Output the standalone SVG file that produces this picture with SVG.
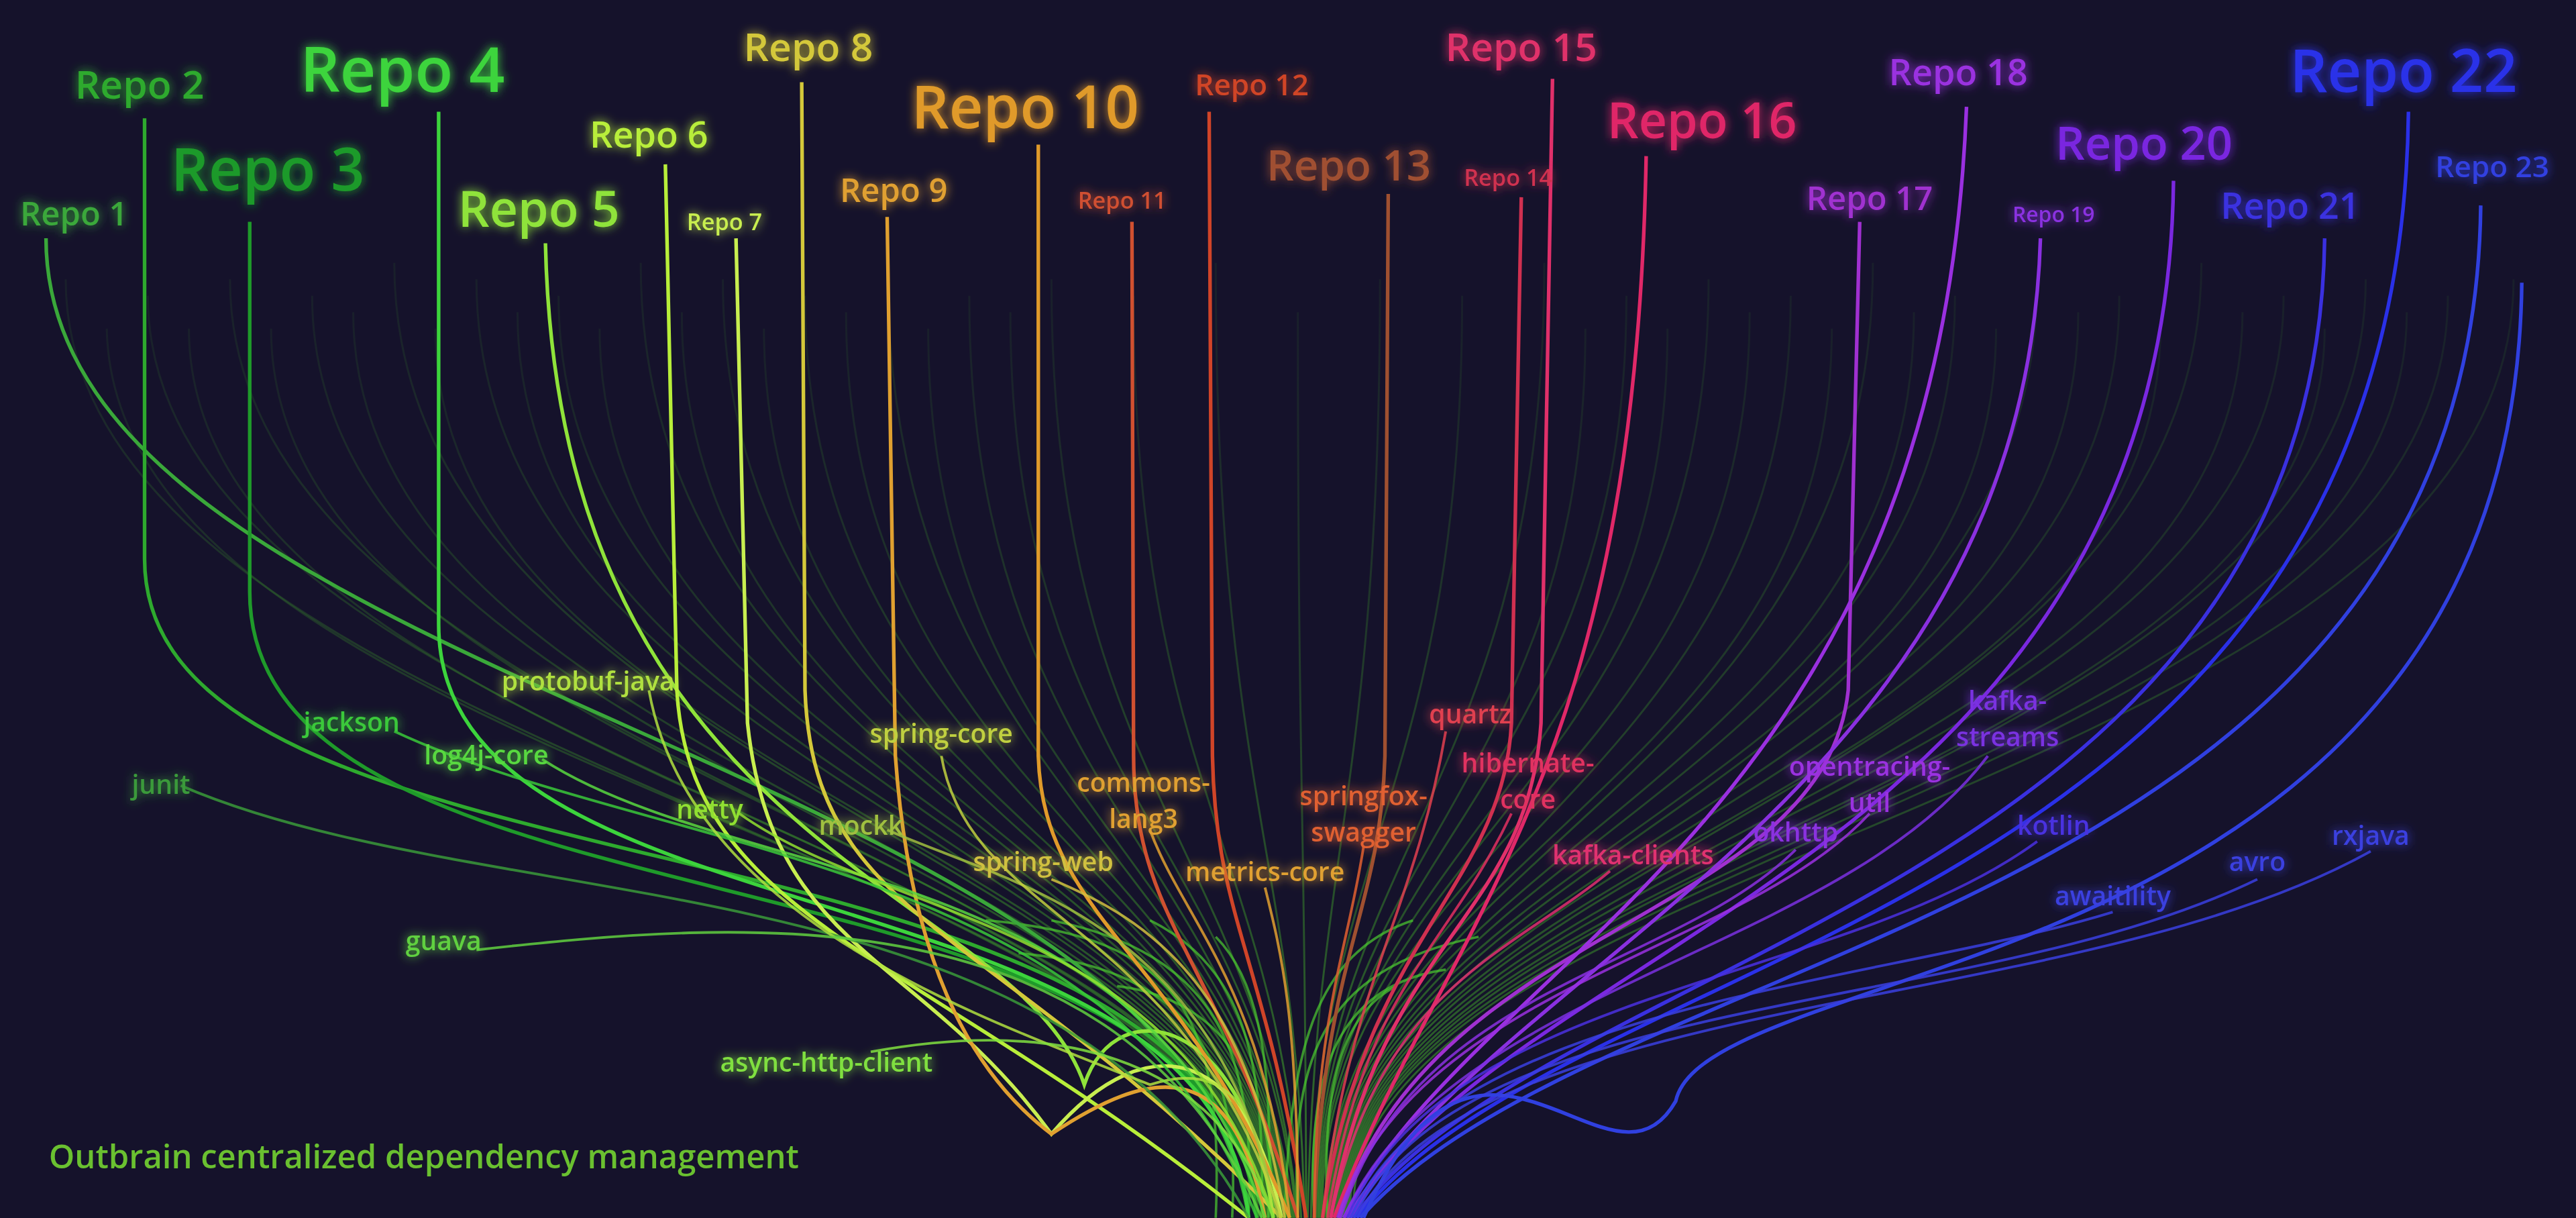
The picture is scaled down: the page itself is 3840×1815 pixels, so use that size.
<svg xmlns="http://www.w3.org/2000/svg" width="3840" height="1815" viewBox="0 0 3840 1815">
<defs>
<filter id="glow" x="-30%" y="-30%" width="160%" height="160%"><feGaussianBlur stdDeviation="3" result="b"/><feMerge><feMergeNode in="b"/><feMergeNode in="SourceGraphic"/></feMerge></filter>
<linearGradient id="fade" x1="0" y1="0" x2="0" y2="1"><stop offset="0" stop-color="#2f6a2a" stop-opacity="0.15"/><stop offset="1" stop-color="#3d9a2a" stop-opacity="0.7"/></linearGradient>
</defs>
<style>
text{font-family:"Open Sans","Noto Sans",sans-serif;text-anchor:middle;font-weight:600}
.bg path{fill:none;stroke:url(#fade);stroke-width:1.2}
.rl{fill:none;stroke-width:2.2}
.dl{fill:none;stroke-width:1.6;opacity:.85}
.tr path{fill:none;stroke:#4ccc30;stroke-width:1.5;opacity:.7}
</style>
<rect width="3840" height="1815" fill="#15122b"/>
<g transform="scale(2.449)">
<g id="connectors">
<g class="bg">
<path d="M40,170 C40,460 760,520 765,741"/><path d="M65,200 C70,470 760,520 766,741"/><path d="M90,180 C90,460 760,520 768,741"/><path d="M115,200 C115,470 760,520 769,741"/><path d="M140,170 C140,460 760,520 770,741"/><path d="M165,200 C165,470 760,520 771,741"/><path d="M190,180 C190,470 760,520 772,741"/><path d="M215,190 C215,470 760,520 773,741"/><path d="M240,160 C240,470 760,520 774,741"/><path d="M265,200 C265,470 760,520 775,741"/><path d="M290,170 C290,470 760,520 776,741"/><path d="M315,190 C315,470 760,520 777,741"/><path d="M340,180 C340,470 760,520 778,741"/><path d="M365,200 C365,470 760,520 779,741"/><path d="M390,160 C390,480 760,520 780,741"/><path d="M415,190 C415,480 760,520 781,741"/><path d="M440,170 C440,480 760,520 782,741"/><path d="M465,200 C465,480 760,520 783,741"/><path d="M490,180 C490,480 760,520 784,741"/><path d="M515,190 C515,480 760,520 785,741"/><path d="M540,160 C540,480 760,520 786,741"/><path d="M565,200 C565,480 760,520 787,741"/><path d="M590,180 C590,480 760,520 788,741"/><path d="M615,190 C615,480 770,520 789,741"/><path d="M640,170 C640,480 770,520 790,741"/><path d="M690,180 C690,480 780,520 792,741"/><path d="M740,160 C740,480 790,520 794,741"/><path d="M790,190 C790,480 795,520 795,741"/><path d="M840,170 C840,480 800,520 796,741"/><path d="M890,180 C890,480 800,520 798,741"/><path d="M940,160 C940,480 800,520 800,741"/><path d="M965,200 C965,480 800,520 801,741"/><path d="M990,180 C990,480 800,520 802,741"/><path d="M1015,200 C1015,480 800,520 803,741"/><path d="M1040,170 C1040,480 800,520 804,741"/><path d="M1065,190 C1065,480 800,520 805,741"/><path d="M1090,180 C1090,480 810,520 806,741"/><path d="M1115,200 C1115,480 810,520 807,741"/><path d="M1140,160 C1140,480 810,520 808,741"/><path d="M1165,190 C1165,480 810,520 809,741"/><path d="M1190,180 C1190,480 810,520 810,741"/><path d="M1215,200 C1215,480 810,520 811,741"/><path d="M1240,170 C1240,480 810,520 812,741"/><path d="M1265,190 C1265,480 810,520 813,741"/><path d="M1290,180 C1290,480 810,520 814,741"/><path d="M1315,200 C1315,480 810,520 815,741"/><path d="M1340,160 C1340,480 810,520 816,741"/><path d="M1365,190 C1365,480 810,520 817,741"/><path d="M1390,180 C1390,480 810,520 818,741"/><path d="M1415,200 C1415,480 810,520 819,741"/><path d="M1440,170 C1440,480 810,520 820,741"/><path d="M1465,190 C1465,480 810,520 821,741"/><path d="M1490,180 C1490,480 810,520 822,741"/><path d="M1530,170 C1530,480 810,520 824,741"/>
</g>
<g class="tr">
<path d="M600,560 C720,570 745,620 740,741"/><path d="M620,580 C730,590 755,650 750,741"/><path d="M640,560 C740,580 765,640 760,741"/><path d="M700,560 C760,590 770,650 768,741"/><path d="M680,600 C760,610 775,680 775,741"/><path d="M900,570 C800,590 785,650 790,741"/><path d="M880,590 C810,600 795,660 800,741"/><path d="M860,560 C800,580 785,640 782,741"/><path d="M740,570 C770,600 775,660 772,741"/><path d="M850,600 C810,620 805,680 808,741"/>
</g>
<path class="rl" stroke="#3aa83a" d="M28,145 C28,420 720,460 760,741"/>
<path class="rl" stroke="#2eaa2e" d="M88,72 L88,340 C88,560 740,480 765,741"/>
<path class="rl" stroke="#1f9a2a" d="M152,135 L152,360 C152,580 730,500 770,741"/>
<path class="rl" stroke="#3cd43c" d="M267,68 L267,380 C267,580 740,520 760,741"/>
<path class="rl" stroke="#8fe33a" d="M332,148 C340,520 620,540 660,660 C680,600 760,620 775,741"/>
<path class="rl" stroke="#b8ee3a" d="M405,100 L412,420 C420,560 560,580 760,741"/>
<path class="rl" stroke="#c8ee50" d="M448,145 L455,440 C470,580 560,580 640,690 C700,620 760,640 780,741"/>
<path class="rl" stroke="#d4c83a" d="M488,50 L490,420 C495,560 600,560 780,741"/>
<path class="rl" stroke="#e0a030" d="M540,132 L545,460 C555,600 600,660 640,690 C700,650 750,640 770,741"/>
<path class="rl" stroke="#e09a2a" d="M632,88 L632,460 C635,560 720,580 785,741"/>
<path class="rl" stroke="#d05030" d="M689,135 L690,460 C690,560 740,580 790,741"/>
<path class="rl" stroke="#d04428" d="M736,68 L738,460 C740,560 770,580 795,741"/>
<path class="rl" stroke="#a05030" d="M845,118 L843,460 C840,560 805,580 800,741"/>
<path class="rl" stroke="#d03050" d="M926,120 L920,440 C915,540 830,570 805,741"/>
<path class="rl" stroke="#e0306a" d="M945,48 L938,440 C930,560 840,570 810,741"/>
<path class="rl" stroke="#e02868" d="M1002,95 C995,480 880,560 812,741"/>
<path class="rl" stroke="#a030d0" d="M1132,135 L1125,420 C1110,560 870,560 815,741"/>
<path class="rl" stroke="#9a30e0" d="M1197,65 C1180,500 900,580 818,741"/>
<path class="rl" stroke="#8a30e0" d="M1242,145 C1232,480 920,580 820,741"/>
<path class="rl" stroke="#7a28e0" d="M1323,110 C1318,520 920,570 822,741"/>
<path class="rl" stroke="#3a30e0" d="M1415,145 C1410,540 940,580 824,741"/>
<path class="rl" stroke="#2a30e8" d="M1466,68 C1460,560 960,570 826,741"/>
<path class="rl" stroke="#3040e0" d="M1510,125 C1505,560 980,570 828,741"/>
<path class="rl" stroke="#3040e0" d="M1535,172 C1530,600 1040,580 1020,670 C980,740 900,580 830,741"/>
<path class="dl" stroke="#3a9a3a" d="M110,478 C300,560 640,520 760,741"/>
<path class="dl" stroke="#3ac83a" d="M240,445 C400,520 680,520 765,741"/>
<path class="dl" stroke="#58d840" d="M330,462 C450,540 700,520 770,741"/>
<path class="dl" stroke="#b0e040" d="M395,420 C420,560 600,620 700,660 C760,640 770,700 775,741"/>
<path class="dl" stroke="#90e030" d="M450,495 C540,560 720,560 775,741"/>
<path class="dl" stroke="#a0c040" d="M540,505 C620,540 740,560 778,741"/>
<path class="dl" stroke="#c0d040" d="M573,460 C590,560 720,560 780,741"/>
<path class="dl" stroke="#d0c040" d="M640,535 C700,560 760,600 782,741"/>
<path class="dl" stroke="#e0a030" d="M700,505 C720,560 770,600 785,741"/>
<path class="dl" stroke="#e0a030" d="M770,540 C780,580 790,620 790,741"/>
<path class="dl" stroke="#e06030" d="M830,515 C820,580 800,620 800,741"/>
<path class="dl" stroke="#e04050" d="M880,445 C860,560 820,600 805,741"/>
<path class="dl" stroke="#e03060" d="M920,495 C880,580 830,600 808,741"/>
<path class="dl" stroke="#e03070" d="M980,530 C920,580 840,600 810,741"/>
<path class="dl" stroke="#9a30e0" d="M1138,495 C1060,580 860,600 814,741"/>
<path class="dl" stroke="#8a30e0" d="M1093,517 C1020,590 860,600 816,741"/>
<path class="dl" stroke="#7a30e0" d="M1210,460 C1120,580 880,600 818,741"/>
<path class="dl" stroke="#4a30e0" d="M1240,512 C1120,600 880,600 820,741"/>
<path class="dl" stroke="#3a40e0" d="M1286,555 C1140,600 880,610 822,741"/>
<path class="dl" stroke="#3a40e0" d="M1374,535 C1200,620 890,600 824,741"/>
<path class="dl" stroke="#3a40e0" d="M1443,518 C1260,620 900,600 826,741"/>
<path class="dl" stroke="#60d040" d="M290,578 C450,560 680,540 768,741"/>
<path class="dl" stroke="#80e040" d="M530,640 C640,620 740,640 775,741"/>
</g>
<g filter="url(#glow)">
<g id="repo1"><text x="45" y="137" font-size="20" fill="#3aa83a">Repo 1</text></g>
<g id="repo2"><text x="85" y="60" font-size="24" fill="#2eaa2e">Repo 2</text></g>
<g id="repo3"><text x="163" y="116" font-size="36" fill="#1f9a2a">Repo 3</text></g>
<g id="repo4"><text x="245" y="56" font-size="38" fill="#3cd43c">Repo 4</text></g>
<g id="repo5"><text x="328" y="138" font-size="30" fill="#8fe33a">Repo 5</text></g>
<g id="repo6"><text x="395" y="90" font-size="22" fill="#b8ee3a">Repo 6</text></g>
<g id="repo7"><text x="441" y="140" font-size="14" fill="#c8ee50">Repo 7</text></g>
<g id="repo8"><text x="492" y="37" font-size="24" fill="#d4c83a">Repo 8</text></g>
<g id="repo9"><text x="544" y="123" font-size="20" fill="#e0a030">Repo 9</text></g>
<g id="repo10"><text x="624" y="78" font-size="36" fill="#e09a2a">Repo 10</text></g>
<g id="repo11"><text x="683" y="127" font-size="14" fill="#d05030">Repo 11</text></g>
<g id="repo12"><text x="762" y="58" font-size="18" fill="#d04428">Repo 12</text></g>
<g id="repo13"><text x="821" y="110" font-size="26" fill="#a05030">Repo 13</text></g>
<g id="repo14"><text x="918" y="113" font-size="14" fill="#d03050">Repo 14</text></g>
<g id="repo15"><text x="926" y="37" font-size="24" fill="#e0306a">Repo 15</text></g>
<g id="repo16"><text x="1036" y="84" font-size="30" fill="#e02868">Repo 16</text></g>
<g id="repo17"><text x="1138" y="128" font-size="20" fill="#a030d0">Repo 17</text></g>
<g id="repo18"><text x="1192" y="52" font-size="22" fill="#9a30e0">Repo 18</text></g>
<g id="repo19"><text x="1250" y="135" font-size="13" fill="#8a30e0">Repo 19</text></g>
<g id="repo20"><text x="1305" y="97" font-size="28" fill="#7a28e0">Repo 20</text></g>
<g id="repo21"><text x="1394" y="133" font-size="22" fill="#3a30e0">Repo 21</text></g>
<g id="repo22"><text x="1463" y="56" font-size="36" fill="#2a30e8">Repo 22</text></g>
<g id="repo23"><text x="1517" y="108" font-size="18" fill="#3040e0">Repo 23</text></g>
<g font-size="16">
<g id="junit"><text x="98" y="483" fill="#3a9a3a">junit</text></g>
<g id="jackson"><text x="214" y="445" fill="#3ac83a">jackson</text></g>
<g id="log4j"><text x="296" y="465" fill="#58d840">log4j-core</text></g>
<g id="protobuf"><text x="358" y="420" fill="#b0e040">protobuf-java</text></g>
<g id="netty"><text x="432" y="498" fill="#90e030">netty</text></g>
<g id="mockk"><text x="524" y="508" fill="#a0c040">mockk</text></g>
<g id="springcore"><text x="573" y="452" fill="#c0d040">spring-core</text></g>
<g id="springweb"><text x="635" y="530" fill="#d0c040">spring-web</text></g>
<g id="commons"><text x="696" y="482" fill="#e0a030">commons-</text><text x="696" y="504" fill="#e0a030">lang3</text></g>
<g id="metrics"><text x="770" y="536" fill="#e0a030">metrics-core</text></g>
<g id="springfox"><text x="830" y="490" fill="#e06030">springfox-</text><text x="830" y="512" fill="#e06030">swagger</text></g>
<g id="quartz"><text x="895" y="440" fill="#e04050">quartz</text></g>
<g id="hibernate"><text x="930" y="470" fill="#e03060">hibernate-</text><text x="930" y="492" fill="#e03060">core</text></g>
<g id="kafkaclients"><text x="994" y="526" fill="#e03070">kafka-clients</text></g>
<g id="opentracing"><text x="1138" y="472" fill="#9a30e0">opentracing-</text><text x="1138" y="494" fill="#9a30e0">util</text></g>
<g id="okhttp"><text x="1093" y="512" fill="#8a30e0">okhttp</text></g>
<g id="kafkastreams"><text x="1222" y="432" fill="#7a30e0">kafka-</text><text x="1222" y="454" fill="#7a30e0">streams</text></g>
<g id="kotlin"><text x="1250" y="508" fill="#4a30e0">kotlin</text></g>
<g id="awaitility"><text x="1286" y="551" fill="#3a40e0">awaitility</text></g>
<g id="avro"><text x="1374" y="530" fill="#3a40e0">avro</text></g>
<g id="rxjava"><text x="1443" y="514" fill="#3a40e0">rxjava</text></g>
<g id="guava"><text x="270" y="578" fill="#60d040">guava</text></g>
<g id="asynchttp"><text x="503" y="652" fill="#80e040">async-http-client</text></g>
</g>
</g>
<g id="title"><text x="258" y="711" font-size="20" fill="#6ac030">Outbrain centralized dependency management</text></g>
</g>
</svg>
